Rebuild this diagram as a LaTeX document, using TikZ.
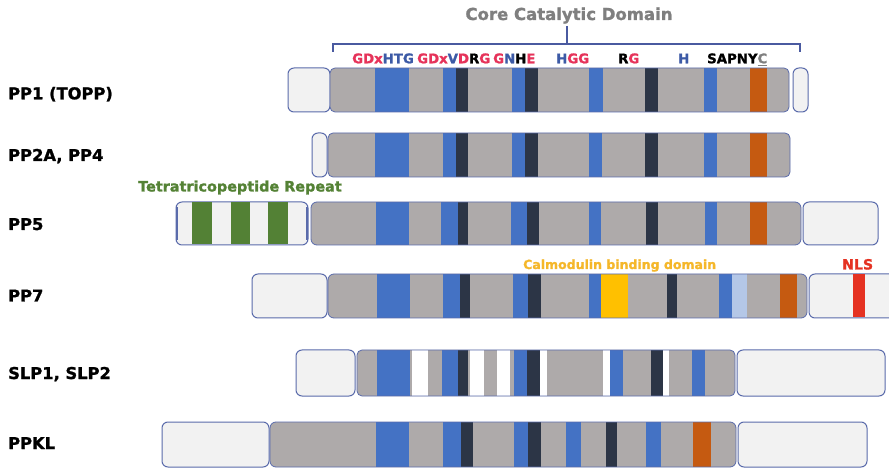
\documentclass[tikz,border=0pt]{standalone}
\usepackage{fontspec}
\setmainfont{DejaVu Sans}[BoldFont={DejaVu Sans Bold},BoldFeatures={FakeBold=1.3}]
\definecolor{gfill}{HTML}{AEAAAA}
\definecolor{bblue}{HTML}{4472C4}
\definecolor{dk}{HTML}{2C3546}
\definecolor{org}{HTML}{C55A11}
\definecolor{grn}{HTML}{538135}
\definecolor{yel}{HTML}{FFC000}
\definecolor{lblue}{HTML}{B4C7E7}
\definecolor{nls}{HTML}{E53222}
\definecolor{wfill}{HTML}{F2F2F2}
\definecolor{bord}{HTML}{5A6BAB}
\definecolor{mred}{HTML}{E6335A}
\definecolor{mblue}{HTML}{3C5AA6}
\definecolor{ttl}{HTML}{7F7F7F}
\definecolor{tgrn}{HTML}{548235}
\definecolor{cal}{HTML}{F5B72A}
\definecolor{brc}{HTML}{4A5AA0}
\begin{document}
\begin{tikzpicture}[x=1pt,y=-1pt,
  lbl/.style={anchor=base west,inner sep=0pt,font=\fontsize{16.3}{18}\selectfont\bfseries},
  motif/.style={anchor=base west,inner sep=0pt,font=\fontsize{13.3}{15}\selectfont\bfseries},
  annot/.style={anchor=base west,inner sep=0pt,font=\fontsize{#1}{16}\selectfont\bfseries},
  wbox/.style={fill=wfill,draw=bord,line width=1pt,rounded corners=6pt},
  gline/.style={draw=bord,line width=0.8pt,rounded corners=5pt},
  brace/.style={draw=brc,line width=1.6pt}]
\clip (0,0) rectangle (889,470);
\fill[white] (0,0) rectangle (889,470);

% title and brace
\node[anchor=base,inner sep=0pt,text=ttl,font=\fontsize{16.5}{18}\selectfont\bfseries] (title) at (569,20) {Core Catalytic Domain};
\coordinate (bl) at (333,52);
\coordinate (blc) at (333,44);
\coordinate (brc) at (800,44);
\coordinate (br) at (800,52);
\coordinate (bm) at (567,44);
\coordinate (bt) at (567,26);
\draw[brace] (bl) -- (blc) -- (brc) -- (br);
\draw[brace] (bt) -- (bm);

% motifs
\node[motif] (m1) at (352,63.3) {\textcolor{mred}{GDx}\textcolor{mblue}{HTG}};
\node[motif] (m2) at (417,63.3) {\textcolor{mred}{GDx}\textcolor{mblue}{V}\textcolor{mred}{D}\textcolor{black}{R}\textcolor{mred}{G}};
\node[motif] (m3) at (493,63.3) {\textcolor{mred}{G}\textcolor{mblue}{N}\textcolor{black}{H}\textcolor{mred}{E}};
\node[motif] (m4) at (556,63.3) {\textcolor{mblue}{H}\textcolor{mred}{GG}};
\node[motif] (m5) at (618,63.3) {\textcolor{black}{R}\textcolor{mred}{G}};
\node[motif] (m6) at (678,63.3) {\textcolor{mblue}{H}};
\node[motif] (m7) at (707,63.3) {SAPNY\textcolor{ttl}{\underline{C}}};

% labels
\node[lbl] (l1) at (8,99.3) {PP1 (TOPP)};
\node[lbl] (l2) at (8,161) {PP2A, PP4};
\node[lbl] (l3) at (8,230) {PP5};
\node[lbl] (l4) at (8,301.5) {PP7};
\node[lbl] (l5) at (8,379) {SLP1, SLP2};
\node[lbl] (l6) at (8,449) {PPKL};

\node[annot=14.4,text=tgrn] (tpr) at (138,191.5) {Tetratricopeptide Repeat};
\node[annot=12.5,text=cal] (cbd) at (523,269) {Calmodulin binding domain};
\node[annot=14.1,text=nls] (nlsl) at (842,269.5) {NLS};

% ---- PP1
\def\yt{68}\def\yb{112}
\draw[wbox] (288,\yt) rectangle (330,\yb);
\fill[gfill,rounded corners=5pt] (330,\yt) rectangle (789,\yb);
\foreach \a/\b/\cl in {375/409/bblue,443/456/bblue,456/468/dk,512/525/bblue,525/538/dk,589/603/bblue,645/658/dk,704/717/bblue,750/767/org}
  \fill[\cl] (\a,\yt) rectangle (\b,\yb);
\draw[gline] (330,\yt) rectangle (789,\yb);
\draw[wbox] (793,\yt) rectangle (808,\yb);

% ---- PP2A
\def\yt{133}\def\yb{177}
\draw[wbox] (312,\yt) rectangle (327,\yb);
\fill[gfill,rounded corners=5pt] (328,\yt) rectangle (790,\yb);
\foreach \a/\b/\cl in {375/409/bblue,443/456/bblue,456/468/dk,512/525/bblue,525/538/dk,589/602/bblue,645/658/dk,704/717/bblue,750/767/org}
  \fill[\cl] (\a,\yt) rectangle (\b,\yb);
\draw[gline] (328,\yt) rectangle (790,\yb);

% ---- PP5
\def\yt{202}\def\yb{245}
\draw[wbox] (176,\yt) rectangle (308,\yb);
\foreach \a/\b in {192/212,231/250,268/288}
  \fill[grn] (\a,\yt+0.5) rectangle (\b,\yb-0.5);
\draw[bord,line width=2pt] (177,\yt+5) -- (177,\yb-5);
\draw[bord,line width=2pt] (307,\yt+5) -- (307,\yb-5);
\fill[gfill,rounded corners=6pt] (311,\yt) rectangle (801,\yb);
\foreach \a/\b/\cl in {376/409/bblue,441/458/bblue,458/468/dk,511/527/bblue,527/539/dk,589/601/bblue,646/658/dk,705/717/bblue,750/767/org}
  \fill[\cl] (\a,\yt) rectangle (\b,\yb);
\draw[gline,rounded corners=6pt] (311,\yt) rectangle (801,\yb);
\draw[wbox] (803,\yt) rectangle (878,\yb);

% ---- PP7
\def\yt{274}\def\yb{318}
\draw[wbox] (252,\yt) rectangle (327,\yb);
\fill[gfill,rounded corners=6pt] (328,\yt) rectangle (807,\yb);
\foreach \a/\b/\cl in {377/410/bblue,443/460/bblue,460/470/dk,513/528/bblue,528/541/dk,589/601/bblue,601/628/yel,667/677/dk,719/732/bblue,732/747/lblue,780/797/org}
  \fill[\cl] (\a,\yt) rectangle (\b,\yb);
\draw[gline,rounded corners=6pt] (328,\yt) rectangle (807,\yb);
\draw[wbox] (809,\yt) rectangle (900,\yb);
\fill[nls] (853,\yt+0.5) rectangle (865,\yb-0.5);

% ---- SLP1
\def\yt{350}\def\yb{396}
\draw[wbox] (296,\yt) rectangle (355,\yb);
\fill[gfill,rounded corners=5pt] (357,\yt) rectangle (735,\yb);
\foreach \a/\b/\cl in {377/410/bblue,412/428/white,442/458/bblue,458/468/dk,470/484/white,497/510/white,514/527/bblue,527/540/dk,540/547/white,603/610/white,610/623/bblue,651/663/dk,663/669/white,692/705/bblue}
  \fill[\cl] (\a,\yt) rectangle (\b,\yb);
\draw[gline] (357,\yt) rectangle (735,\yb);
\draw[wbox] (737,\yt) rectangle (885,\yb);

% ---- PPKL
\def\yt{422}\def\yb{467}
\draw[wbox] (162,\yt) rectangle (269,\yb);
\fill[gfill,rounded corners=6pt] (270,\yt) rectangle (736,\yb);
\foreach \a/\b/\cl in {376/409/bblue,443/461/bblue,461/473/dk,514/528/bblue,528/541/dk,566/581/bblue,606/617/dk,646/661/bblue,693/711/org}
  \fill[\cl] (\a,\yt) rectangle (\b,\yb);
\draw[gline,rounded corners=6pt] (270,\yt) rectangle (736,\yb);
\draw[wbox] (738,\yt) rectangle (867,\yb);
\end{tikzpicture}
\end{document}
